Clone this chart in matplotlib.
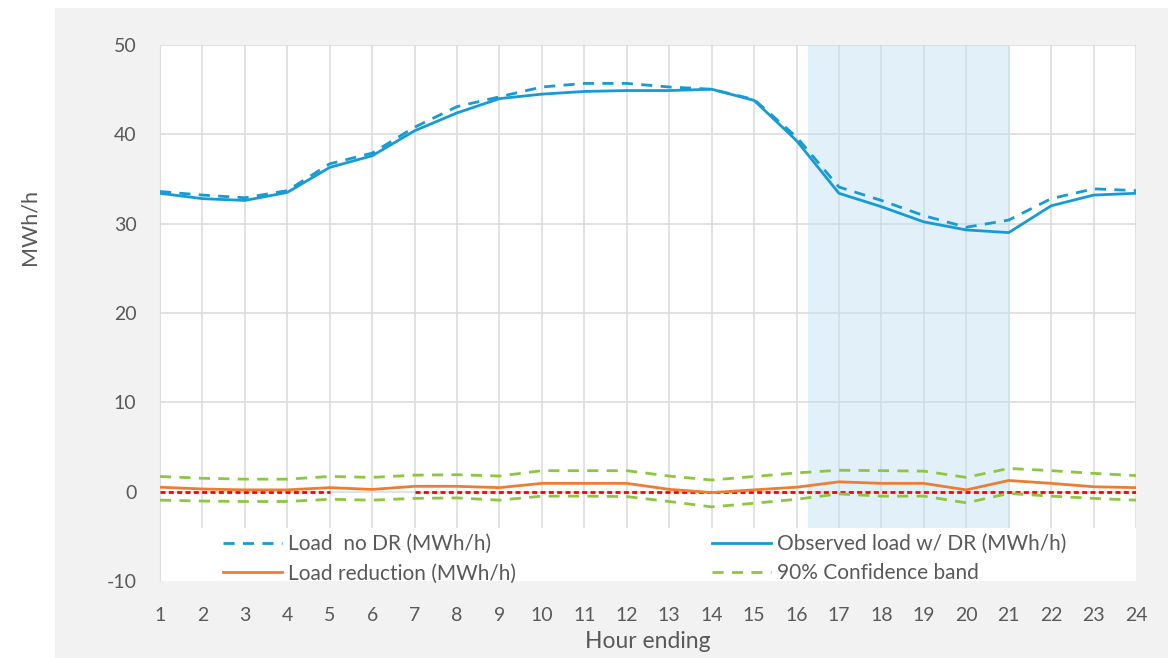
import numpy as np
import matplotlib.pyplot as plt
import matplotlib.patches as patches
import matplotlib.lines as mlines

# ================================
# DATA
# ================================
hours = list(range(1, 25))
load_no_dr = [33.6, 33.2, 32.9, 33.7, 36.7, 37.9, 40.8, 43.1, 44.2, 45.3, 45.7, 45.7,
              45.3, 45.05, 43.9, 39.7, 34.1, 32.6, 30.9, 29.6, 30.4, 32.8, 33.9, 33.7]
observed_load = [33.4, 32.8, 32.6, 33.5, 36.3, 37.6, 40.4, 42.4, 44.0, 44.5, 44.8, 44.9,
                 44.9, 45.05, 43.8, 39.3, 33.4, 31.9, 30.2, 29.3, 29.0, 32.0, 33.2, 33.4]
load_reduction = [0.5, 0.3, 0.2, 0.2, 0.45, 0.25, 0.6, 0.6, 0.45, 0.93, 0.93, 0.93,
                  0.26, -0.1, 0.2, 0.5, 1.1, 0.93, 0.93, 0.2, 1.25, 0.93, 0.55, 0.45]
band_upper = [1.7, 1.5, 1.4, 1.4, 1.7, 1.6, 1.85, 1.9, 1.75, 2.35, 2.35, 2.35,
              1.75, 1.3, 1.7, 2.1, 2.4, 2.35, 2.3, 1.6, 2.6, 2.35, 2.05, 1.8]
band_lower = [-0.95, -1.05, -1.1, -1.1, -0.85, -0.95, -0.75, -0.7, -0.95, -0.5, -0.5, -0.55,
              -1.1, -1.7, -1.3, -0.85, -0.25, -0.5, -0.5, -1.25, -0.2, -0.5, -0.75, -0.95]
zero_line = [0, 0, 0, 0, 0, np.nan, 0, 0, 0, 0, 0, 0,
             0, 0, 0, 0, 0, 0, 0, 0, 0, 0, 0, 0]
event_start, event_end = 16.27, 21.0

# ================================
# STYLE
# ================================
BLUE = "#169BD5"
ORANGE = "#ED7D31"
GREEN = "#8DC63F"
TEXT = "#595959"
GRID = "#DDDDDD"
plt.rcParams["font.family"] = ["Lato", "DejaVu Sans"]
plt.rcParams["axes.unicode_minus"] = False

fig = plt.figure(figsize=(11.72, 6.58), dpi=100, facecolor="white")
fig.patches.append(patches.Rectangle((55 / 1172, 0), (1168 - 55) / 1172, 1 - 8 / 658,
                                     transform=fig.transFigure, facecolor="#F2F2F2",
                                     edgecolor="none", zorder=-10))

ax = fig.add_axes([160 / 1172, 1 - 581 / 658, (1136 - 160) / 1172, (581 - 45) / 658])
ax.set_facecolor("white")

# event window shading
ax.axvspan(event_start, event_end, color="#BFE0F2", alpha=0.45, lw=0, zorder=1.5)

# lines
ax.plot(hours, zero_line, color="#FF0000", lw=2.0, dashes=(1.8, 1.2), zorder=3)
ax.plot(hours, band_upper, color=GREEN, lw=2.0, dashes=(4, 3), zorder=3)
ax.plot(hours, band_lower, color=GREEN, lw=2.0, dashes=(4, 3), zorder=3)
ax.plot(hours, load_reduction, color=ORANGE, lw=2.0, zorder=4)
ax.plot(hours, observed_load, color=BLUE, lw=2.0, zorder=4)
ax.plot(hours, load_no_dr, color=BLUE, lw=2.0, dashes=(4, 3), zorder=4)

# axes
ax.set_xlim(1, 24)
ax.set_ylim(-10, 50)
ax.set_xticks(hours)
ax.set_yticks(range(-10, 51, 10))
ax.grid(True, color=GRID, lw=1.2, zorder=1)
ax.set_axisbelow(True)
for side, sp in ax.spines.items():
    sp.set_visible(side == "left")
    sp.set_color(GRID)
ax.tick_params(axis="both", length=0, colors=TEXT, labelsize=14)
ax.tick_params(axis="y", pad=17)
ax.tick_params(axis="x", pad=19)

# white block behind legend
ax.add_patch(patches.Rectangle((0, 0), 1, (581 - 528) / 536, transform=ax.transAxes,
                               facecolor="white", edgecolor="none", zorder=2.5))

# legend (two columns placed separately)
h_no_dr = mlines.Line2D([], [], color=BLUE, lw=2.0, dashes=(4, 3))
h_obs = mlines.Line2D([], [], color=BLUE, lw=2.0)
h_red = mlines.Line2D([], [], color=ORANGE, lw=2.0)
h_band = mlines.Line2D([], [], color=GREEN, lw=2.0, dashes=(4, 3))
leg_kw = dict(loc="upper left", frameon=False, borderpad=0, borderaxespad=0,
              handlelength=2.85, handletextpad=0.28, labelspacing=0.45,
              fontsize=15, labelcolor=TEXT)
leg1 = ax.legend([h_no_dr, h_red], ["Load  no DR (MWh/h)", "Load reduction (MWh/h)"],
                 bbox_to_anchor=((223 - 160) / 976, (581 - 534) / 536), **leg_kw)
leg1.set_zorder(5)
ax.add_artist(leg1)
leg2 = ax.legend([h_obs, h_band], ["Observed load w/ DR (MWh/h)", "90% Confidence band"],
                 bbox_to_anchor=((712 - 160) / 976, (581 - 534) / 536), **leg_kw)
leg2.set_zorder(5)

# axis titles
fig.text(30 / 1172, 1 - 227 / 658, "MWh/h", rotation=90, ha="center", va="center",
         color=TEXT, fontsize=15.5)
fig.text(648 / 1172, 1 - 641 / 658, "Hour ending", ha="center", va="center",
         color=TEXT, fontsize=16.5)

fig.savefig("out.png", dpi=100, facecolor="white")
